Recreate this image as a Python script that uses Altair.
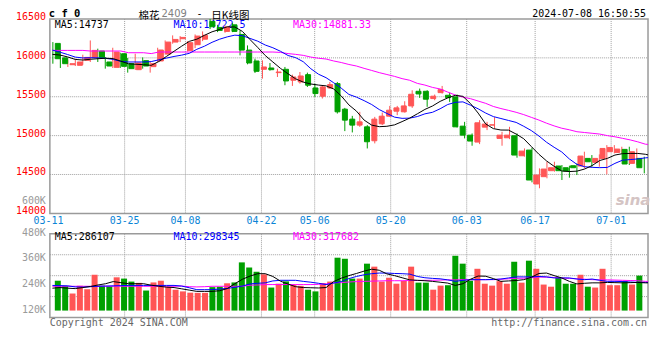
import altair as alt
import pandas as pd

# ---------------- data ----------------
OPEN = [16186, 16000, 15912, 15904, 15968, 16006, 16088, 15947, 15878, 16053,
        15925, 15848, 15964, 15887, 15960, 16049, 16203, 16246, 16096, 16169,
        16240, 16470, 16391, 16340, 16425, 16301, 16100, 15960, 15853, 15870,
        15810, 15853, 15712, 15690, 15784, 15613, 15507, 15613, 15669, 15340,
        15212, 15135, 15113, 14934, 15152, 15250, 15314, 15306, 15382, 15570,
        15570, 15476, 15553, 15519, 15498, 15122, 15006, 14917, 15109, 15135,
        14964, 14972, 14998, 14741, 14814, 14378, 14472, 14549, 14609, 14587,
        14613, 14609, 14707, 14656, 14707, 14793, 14784, 14823, 14643, 14707]
HIGH = [16203, 16041, 15977, 15989, 16041, 16224, 16118, 16011, 16130, 16066,
        15998, 16053, 16006, 15947, 16130, 16224, 16289, 16280, 16216, 16301,
        16340, 16500, 16425, 16417, 16451, 16353, 16160, 15989, 15968, 15934,
        15861, 15883, 15784, 15818, 15810, 15669, 15648, 15690, 15690, 15357,
        15254, 15306, 15135, 15241, 15297, 15382, 15382, 15442, 15583, 15605,
        15583, 15528, 15639, 15553, 15528, 15177, 15028, 15199, 15177, 15237,
        15049, 15113, 15028, 14835, 14844, 14579, 14664, 14664, 14622, 14613,
        14643, 14793, 14750, 14758, 14878, 14878, 14857, 14857, 14835, 14729]
LOW = [15925, 15870, 15883, 15895, 15912, 15947, 15947, 15861, 15870, 15870,
       15810, 15844, 15861, 15810, 15947, 16041, 16182, 16203, 16083, 16126,
       16215, 16370, 16331, 16323, 16331, 16032, 15917, 15806, 15733, 15836,
       15754, 15648, 15639, 15669, 15626, 15498, 15477, 15605, 15284, 15058,
       15041, 15113, 14835, 14900, 15135, 15241, 15263, 15297, 15357, 15485,
       15370, 15455, 15541, 15434, 15105, 14964, 14870, 14891, 15071, 15092,
       14870, 14955, 14716, 14729, 14399, 14323, 14451, 14536, 14429, 14459,
       14493, 14579, 14600, 14600, 14502, 14771, 14771, 14622, 14622, 14515]
CLOSE = [15989, 15925, 15925, 15947, 16006, 16096, 16002, 15895, 16075, 15891,
         15861, 15934, 15895, 15925, 16101, 16203, 16237, 16263, 16195, 16280,
         16290, 16400, 16353, 16395, 16340, 16100, 15934, 15827, 15883, 15848,
         15818, 15703, 15754, 15767, 15648, 15541, 15626, 15656, 15306, 15199,
         15135, 15177, 14921, 15212, 15250, 15327, 15357, 15382, 15532, 15536,
         15468, 15507, 15592, 15489, 15113, 15006, 14930, 15165, 15148, 15139,
         15006, 15006, 14750, 14801, 14429, 14493, 14570, 14587, 14549, 14545,
         14587, 14737, 14664, 14707, 14835, 14848, 14827, 14635, 14793, 14587]
VOLUME = [260, 236, 200, 237, 220, 288, 237, 234, 276, 270,
          256, 250, 214, 252, 260, 231, 218, 210, 204, 203,
          203, 230, 232, 248, 252, 346, 322, 302, 290, 228,
          246, 257, 242, 236, 218, 210, 249, 256, 368, 363,
          270, 270, 340, 326, 256, 274, 246, 259, 326, 251,
          251, 218, 237, 239, 377, 340, 260, 316, 246, 237,
          258, 246, 349, 251, 354, 316, 242, 232, 274, 246,
          246, 288, 232, 228, 316, 239, 239, 259, 242, 284]
MA5 = [16045, 16036, 16012, 15980, 15972, 15982, 15989, 15995, 15990, 15958,
       15924, 15918, 15912, 15904, 15953, 16018, 16085, 16150, 16212, 16240,
       16290, 16335, 16365, 16400, 16397, 16340, 16235, 16135, 16030, 15947,
       15865, 15795, 15730, 15688, 15664, 15650, 15640, 15600, 15510, 15395,
       15315, 15200, 15135, 15115, 15120, 15138, 15180, 15225, 15280, 15337,
       15381, 15440, 15485, 15518, 15505, 15412, 15290, 15150, 15090, 15072,
       15071, 15020, 14960, 14860, 14760, 14675, 14605, 14545, 14538, 14543,
       14570, 14615, 14680, 14707, 14750, 14768, 14771, 14771, 14760, 14737]
MA10 = [16100, 16073, 16043, 16010, 15999, 16002, 16000, 15994, 15980, 15955,
        15947, 15947, 15947, 15952, 15975, 15997, 16018, 16035, 16058, 16110,
        16150, 16200, 16240, 16270, 16292, 16285, 16250, 16215, 16165, 16130,
        16085, 16030, 16003, 15950, 15860, 15790, 15745, 15680, 15610, 15530,
        15495, 15450, 15400, 15335, 15285, 15238, 15222, 15225, 15245, 15280,
        15300, 15345, 15400, 15428, 15434, 15391, 15345, 15290, 15245, 15220,
        15195, 15170, 15120, 15065, 14995, 14915, 14850, 14790, 14700, 14630,
        14600, 14592, 14588, 14591, 14643, 14684, 14692, 14700, 14714, 14722]
MA30 = [16096, 16096, 16096, 16096, 16096, 16088, 16088, 16088, 16088, 16088,
        16066, 16066, 16066, 16055, 16075, 16075, 16075, 16075, 16075, 16075,
        16075, 16075, 16075, 16075, 16075, 16075, 16075, 16075, 16075, 16075,
        16070, 16055, 16045, 16032, 16010, 15995, 15985, 15960, 15940, 15915,
        15895, 15865, 15838, 15810, 15786, 15762, 15733, 15712, 15672, 15650,
        15620, 15600, 15560, 15522, 15495, 15475, 15445, 15415, 15375, 15348,
        15325, 15300, 15270, 15235, 15200, 15160, 15125, 15095, 15075, 15050,
        15040, 15030, 15020, 15000, 14985, 14965, 14945, 14920, 14890, 14881]
VMA5 = [225, 228, 225, 223, 228, 233, 240, 246, 256, 251,
        246, 246, 246, 239, 234, 230, 228, 222, 216, 210,
        210, 210, 213, 223, 246, 267, 282, 293, 293, 280,
        258, 244, 232, 228, 227, 226, 228, 256, 272, 284,
        294, 305, 314, 309, 292, 284, 274, 264, 262, 260,
        257, 253, 249, 238, 246, 267, 282, 281, 270, 257,
        259, 261, 265, 276, 294, 296, 284, 273, 257, 245,
        248, 250, 250, 252, 251, 250, 251, 252, 250, 250]
VMA10 = [238, 237, 236, 231, 230, 232, 234, 235, 236, 237,
         238, 238, 238, 238, 238, 238, 238, 235, 227, 218,
         218, 218, 221, 224, 229, 235, 245, 248, 250, 259,
         262, 262, 262, 257, 253, 248, 242, 249, 256, 270,
         280, 288, 293, 296, 296, 294, 293, 291, 280, 274,
         271, 269, 264, 257, 262, 265, 265, 265, 266, 268,
         273, 278, 278, 278, 280, 278, 273, 273, 273, 268,
         265, 268, 262, 257, 257, 256, 254, 252, 252, 252]
VMA30 = [234, 234, 234, 234, 234, 234, 234, 234, 234, 234,
         234, 234, 234, 234, 234, 234, 234, 235, 232, 231,
         232, 234, 234, 234, 234, 234, 239, 240, 242, 242,
         242, 242, 242, 242, 242, 243, 245, 250, 251, 254,
         256, 257, 258, 259, 260, 260, 260, 261, 261, 262,
         262, 263, 264, 264, 265, 265, 265, 265, 265, 267,
         269, 271, 272, 274, 277, 277, 275, 273, 271, 269,
         267, 265, 264, 264, 263, 262, 261, 260, 257, 257]

DATE_IDX = [0, 10, 18, 28, 35, 45, 55, 64, 74]
DATE_LABELS = ["03-11", "03-25", "04-08", "04-22", "05-06",
               "05-20", "06-03", "06-17", "07-01"]
PRICE_TICKS = [14000, 14500, 15000, 15500, 16000, 16500]
PRICE_GRID = [14500, 15000, 15500, 16000]
VOL_TICKS = [120, 240, 360, 480]
VOL_TICK_LABELS = ["120K", "240K", "360K", "480K"]
VOL_QUARTERS = [1, 2, 3]

# ---------------- layout / style ----------------
W, H = 600, 300
P_TOP, P_BOT = 0.5, 195.5
V_TOP, V_BOT, V_BASE = 216, 300, 293
TITLE_TOP = -9.5          # top edge of the title row (page y 8.5)
CJK_TOP = -7.5
MA_Y = 7.0
RED, GREEN = "#ff5555", "#00a000"
GRID, FRAME = "#a0a0a0", "#9a9a9a"
XBLUE = "#0a84d6"
MONO = "DejaVu Sans Mono"
CJK = "Noto Sans CJK SC"

n = len(CLOSE)
df = pd.DataFrame({
    "i": list(range(n)), "o": OPEN, "h": HIGH, "l": LOW, "c": CLOSE,
    "v": VOLUME, "m5": MA5, "m10": MA10, "m30": MA30,
    "vm5": VMA5, "vm10": VMA10, "vm30": VMA30,
})
df["dir"] = ["up" if c >= o else "down" for o, c in zip(OPEN, CLOSE)]

def S(domain, rng):
    return alt.Scale(domain=domain, range=rng, nice=False, zero=False)

xs = S([-0.4, 79.5], [0, W])        # candles / volume bars
ms = S([-0.334, 78.35], [0, W])     # moving-average lines
ds = S([0.166, 78.85], [0, W])      # date grid / labels
ps = S([14000, 16500], [P_BOT, P_TOP])
vs = S([120, 480], [V_BASE, V_TOP])
qs = S([0, 4], [V_BOT, V_TOP])
cs = alt.Scale(domain=["up", "down"], range=[RED, GREEN])

base = alt.Chart(df)
X = alt.X("i:Q", scale=xs, axis=None)
XM = alt.X("i:Q", scale=ms, axis=None)
COL = alt.Color("dir:N", scale=cs, legend=None)


def text(t, x, y, color="black", size=10, align="left", font=MONO,
         weight="normal", style="normal", baseline="middle"):
    return alt.Chart(pd.DataFrame({"t": [t]})).mark_text(
        align=align, baseline=baseline, font=font, fontSize=size,
        color=color, fontWeight=weight, fontStyle=style
    ).encode(x=alt.value(x), y=alt.value(y), text="t:N")


one = pd.DataFrame({"a": [0]})
layers = []

# grids
layers.append(alt.Chart(pd.DataFrame({"p": PRICE_GRID})).mark_rule(
    color=GRID, strokeDash=[1, 1], strokeWidth=1).encode(
    y=alt.Y("p:Q", scale=ps, axis=None), x=alt.value(0), x2=alt.value(W)))
layers.append(alt.Chart(pd.DataFrame({"q": VOL_QUARTERS})).mark_rule(
    color=GRID, strokeDash=[1, 1], strokeWidth=1).encode(
    y=alt.Y("q:Q", scale=qs, axis=None), x=alt.value(0), x2=alt.value(W)))
dgrid = alt.Chart(pd.DataFrame({"d": DATE_IDX[1:]}))
layers.append(dgrid.mark_rule(color=GRID, strokeDash=[1, 1], strokeWidth=1).encode(
    x=alt.X("d:Q", scale=ds, axis=None), y=alt.value(P_TOP), y2=alt.value(P_BOT)))
layers.append(dgrid.mark_rule(color=GRID, strokeDash=[1, 1], strokeWidth=1).encode(
    x=alt.X("d:Q", scale=ds, axis=None), y=alt.value(V_TOP), y2=alt.value(V_BOT)))

# frames
for y1, y2 in [(P_TOP, P_BOT), (V_TOP, V_BOT)]:
    layers.append(alt.Chart(one).mark_rect(
        filled=False, stroke=FRAME, strokeWidth=1.5).encode(
        x=alt.value(0), x2=alt.value(W), y=alt.value(y1), y2=alt.value(y2)))

# MA value labels (drawn under the candles, as in the reference)
layers += [
    text("MA5:14737", 5, MA_Y, "black"),
    text("MA10:14722.5", 124, MA_Y, "#0000ff"),
    text("MA30:14881.33", 244, MA_Y, "#ff00ff"),
    text("MA5:286107", 5, 219.3, "black"),
    text("MA10:298345", 124, 219.3, "#0000ff"),
    text("MA30:317682", 244, 219.3, "#ff00ff"),
]

# volume bars + MAs
layers.append(base.mark_bar(size=6).encode(
    x=X, y=alt.Y("v:Q", scale=vs, axis=None), y2=alt.datum(120), color=COL))
for col, c in [("vm30", "#ff00ff"), ("vm10", "#0000ff"), ("vm5", "black")]:
    layers.append(base.mark_line(color=c, strokeWidth=1, clip=True).encode(
        x=XM, y=alt.Y(f"{col}:Q", scale=vs, axis=None)))

# candles
layers.append(base.mark_rule(strokeWidth=1).encode(
    x=X, y=alt.Y("l:Q", scale=ps, axis=None), y2="h:Q", color=COL))
layers.append(base.mark_bar(size=5, strokeWidth=1).encode(
    x=X, y=alt.Y("o:Q", scale=ps, axis=None), y2="c:Q", color=COL,
    stroke=alt.Stroke("dir:N", scale=cs, legend=None)))

# price MAs
for col, c in [("m30", "#ff00ff"), ("m10", "#0000ff"), ("m5", "black")]:
    layers.append(base.mark_line(color=c, strokeWidth=1, clip=True).encode(
        x=XM, y=alt.Y(f"{col}:Q", scale=ps, axis=None)))

# axis labels
layers.append(alt.Chart(pd.DataFrame({"p": PRICE_TICKS})).mark_text(
    align="right", baseline="middle", dy=-2, font=MONO, fontSize=10, color="#ff0000").encode(
    x=alt.value(-4), y=alt.Y("p:Q", scale=ps, axis=None), text=alt.Text("p:Q", format="d")))
layers.append(alt.Chart(pd.DataFrame({"v": VOL_TICKS, "lab": VOL_TICK_LABELS})).mark_text(
    align="right", baseline="middle", dy=-1, font=MONO, fontSize=10, color="#9a9a9a").encode(
    x=alt.value(-4), y=alt.Y("v:Q", scale=vs, axis=None), text="lab:N"))
layers.append(alt.Chart(pd.DataFrame({"d": DATE_IDX, "lab": DATE_LABELS})).mark_text(
    align="center", baseline="middle", font=MONO, fontSize=10, color=XBLUE).encode(
    x=alt.X("d:Q", scale=ds, axis=None), y=alt.value(203.5), text="lab:N"))

# titles and captions
layers += [
    text("600K", -4, 182.7, "#9a9a9a", align="right"),
    text("c f 0", -1, TITLE_TOP, "black", size=10.5, weight="bold", baseline="top"),
    text("棉花", 89, CJK_TOP, "black", size=10.5, font=CJK, baseline="top"),
    text("2409", 112, TITLE_TOP + 0.5, "#808080", size=10, font="DejaVu Sans", baseline="top"),
    text("-", 150, TITLE_TOP + 0.5, "black", size=10, align="center", baseline="top"),
    text("日K线图", 162, CJK_TOP, "black", size=10.5, font=CJK, baseline="top"),
    text("2024-07-08 16:50:55", 598, TITLE_TOP + 0.5, "black", align="right", baseline="top"),
    text("Copyright 2024 SINA.COM", 0, 305.5, "#666666"),
    text("http://finance.sina.com.cn", 599, 305.5, "#666666", align="right"),
    text("sina", 585, 182, "#d4c4c4", size=15, weight="bold", style="italic",
         font="DejaVu Sans", align="center"),
]

chart = alt.layer(*layers).resolve_scale(
    x="independent", y="independent", color="independent", stroke="independent"
).properties(
    width=W, height=H,
    autosize=alt.AutoSizeParams(type="none"),
    padding={"left": 42, "top": 10, "right": 4, "bottom": 22},
).configure_view(stroke=None)

chart.save("out.html", embed_options={"renderer": "svg", "actions": False})
